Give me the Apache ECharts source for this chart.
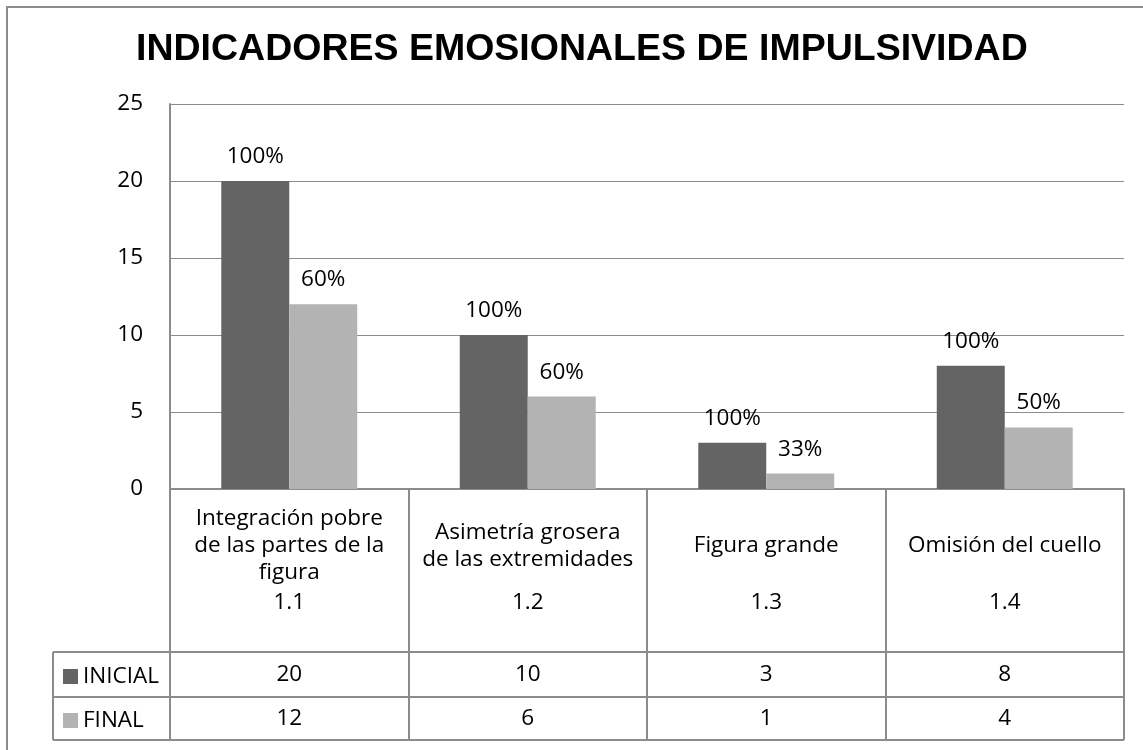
<!DOCTYPE html>
<html>
<head>
<meta charset="utf-8">
<script src="https://cdn.jsdelivr.net/npm/echarts@6/dist/echarts.min.js"></script>
<style>
html, body { margin: 0; padding: 0; background: #fff; }
#chart { width: 1143px; height: 750px; }
</style>
</head>
<body>
<div id="chart"></div>
<script>
// datos
var categories = ["Integración pobre\nde las partes de la\nfigura", "Asimetría grosera\nde las extremidades", "Figura grande", "Omisión del cuello"];
var codes = ["1.1", "1.2", "1.3", "1.4"];
var seriesNames = ["INICIAL", "FINAL"];
var inicial = [20, 10, 3, 8];
var final = [12, 6, 1, 4];

var font = "'Open Sans', sans-serif";
var fs = 22.5;
var lineColor = "#8c8c8c";
var colors = ["#646464", "#b3b3b3"];

var chart = echarts.init(document.getElementById("chart"));

function pct(v, i) {
  return Math.round(v / inicial[i] * 100) + "%";
}

chart.setOption({
  animation: false,
  color: colors,
  title: {
    text: "INDICADORES EMOSIONALES DE IMPULSIVIDAD",
    left: 136,
    top: 31,
    padding: 0,
    textStyle: {
      fontFamily: "'Liberation Sans', Arial, sans-serif",
      fontWeight: "bold",
      fontSize: 37.5,
      color: "#000"
    }
  },
  legend: {
    data: seriesNames,
    orient: "vertical",
    left: 63,
    top: 665,
    padding: 0,
    icon: "rect",
    itemWidth: 15,
    itemHeight: 15,
    itemGap: 21,
    textStyle: { fontFamily: font, fontSize: fs, color: "#000" }
  },
  grid: { left: 170, right: 19, top: 104, bottom: 261 },
  xAxis: {
    type: "category",
    data: categories,
    axisLabel: { show: false },
    axisLine: { lineStyle: { color: lineColor, width: 2 } },
    axisTick: { show: true, length: 251, lineStyle: { color: lineColor, width: 2 } }
  },
  yAxis: {
    type: "value",
    min: 0,
    max: 25,
    interval: 5,
    axisLine: { show: true, lineStyle: { color: lineColor, width: 2 } },
    axisTick: { show: false },
    axisLabel: { margin: 27, fontFamily: font, fontSize: fs, color: "#000" },
    splitLine: { lineStyle: { color: lineColor, width: 1 } }
  },
  series: [
    {
      name: seriesNames[0],
      type: "bar",
      data: inicial,
      barCategoryGap: "43%",
      barGap: "0%",
      label: {
        show: true, position: "top", distance: 13,
        fontFamily: font, fontSize: fs, color: "#000",
        formatter: function (p) { return pct(p.value, p.dataIndex); }
      }
    },
    {
      name: seriesNames[1],
      type: "bar",
      data: final,
      barCategoryGap: "43%",
      barGap: "0%",
      label: {
        show: true, position: "top", distance: 13,
        fontFamily: font, fontSize: fs, color: "#000",
        formatter: function (p) { return pct(p.value, p.dataIndex); }
      }
    }
  ]
});

// tabla de datos debajo del eje
var graphics = [];
var tableLeft = 53, tableRight = 1124;
var rowY = [652, 697, 740];
rowY.forEach(function (y) {
  graphics.push({ type: "line", shape: { x1: tableLeft, y1: y, x2: tableRight, y2: y },
    style: { stroke: lineColor, lineWidth: 2 } });
});
graphics.push({ type: "line", shape: { x1: tableLeft, y1: rowY[0], x2: tableLeft, y2: rowY[2] },
  style: { stroke: lineColor, lineWidth: 2 } });
// marco exterior
graphics.push({ type: "rect", shape: { x: 7, y: 7, width: 1300, height: 900 },
  style: { fill: null, stroke: lineColor, lineWidth: 2 } });

function cellText(txt, x, y) {
  return { type: "text", style: { text: txt, x: x, y: y, fontFamily: font, fontSize: fs,
    fill: "#000", align: "center", verticalAlign: "middle", lineHeight: 27 } };
}
categories.forEach(function (c, i) {
  var x = chart.convertToPixel({ xAxisIndex: 0 }, i);
  graphics.push(cellText(c, x, 546));
  graphics.push(cellText(codes[i], x, 603));
  graphics.push(cellText(String(inicial[i]), x, 675));
  graphics.push(cellText(String(final[i]), x, 719));
});
chart.setOption({ graphic: graphics });
</script>
</body>
</html>
